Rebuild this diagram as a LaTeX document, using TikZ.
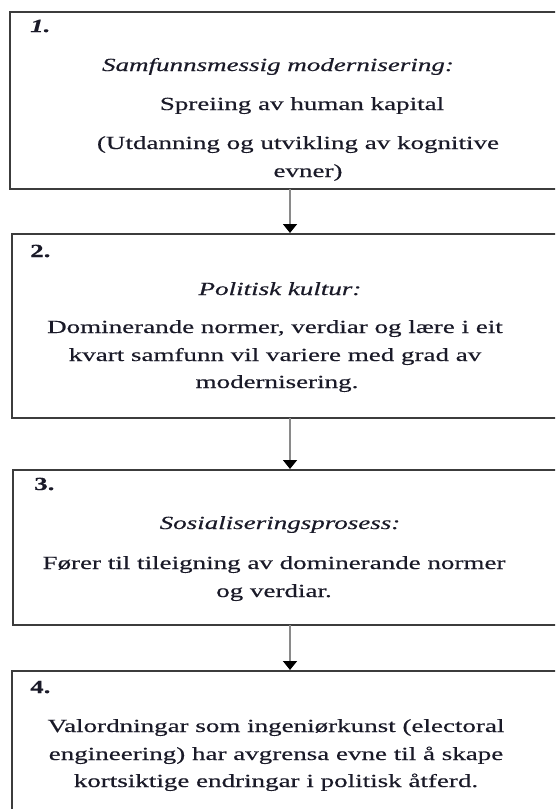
\documentclass[tikz,border=0pt]{standalone}
\usepackage{fontspec}
\setmainfont{Liberation Serif}[FakeStretch=1.46,FakeBold=0.4]
\usetikzlibrary{arrows.meta}
\definecolor{bordercol}{HTML}{3C3C3C}
\definecolor{txtcol}{HTML}{1A1A28}
\definecolor{shaftcol}{HTML}{8A8A8A}
\tikzset{
  boxst/.style={draw=bordercol, line width=2pt, inner sep=0pt, outer sep=0pt, anchor=north west},
  txt/.style={inner sep=0pt, anchor=base, text=txtcol, font=\fontsize{18.5}{27.5}\selectfont},
  numst/.style={txt, anchor=base west, font=\fontsize{18.5}{27.5}\selectfont\bfseries},
  arr/.style={draw=shaftcol, line width=1.6pt, -{Triangle[width=14pt,length=9pt,fill=black,color=black]}, shorten >=1pt}
}
\begin{document}
\begin{tikzpicture}[x=1pt,y=-1pt]
\useasboundingbox (0,0) rectangle (555,809);
\clip (0,0) rectangle (555,809);
\fill[white] (0,0) rectangle (555,809);
% boxes
\node[boxst, minimum width=570pt, minimum height=177pt] (b1) at (10,12) {};
\node[boxst, minimum width=570pt, minimum height=184pt] (b2) at (12,234) {};
\node[boxst, minimum width=570pt, minimum height=155pt] (b3) at (13,470) {};
\node[boxst, minimum width=570pt, minimum height=160pt] (b4) at (12,671) {};
% arrow x
\coordinate (ax) at (290,0);
\draw[arr] (b1.south -| ax) -- (b2.north -| ax);
\draw[arr] (b2.south -| ax) -- (b3.north -| ax);
\draw[arr] (b3.south -| ax) -- (b4.north -| ax);
% box 1
\node[numst] (n1) at (30,32) {\itshape 1.};
\node[txt] (t1a) at (278,71) {\itshape Samfunnsmessig modernisering:};
\node[txt] (t1b) at (302,110) {Spreiing av human kapital};
\node[txt] (t1c) at (298,149) {(Utdanning og utvikling av kognitive};
\node[txt] (t1d) at (308,177) {evner)};
% box 2
\node[numst] (n2) at (30,257) {2.};
\node[txt] (t2a) at (280,295) {\itshape Politisk kultur:};
\node[txt] (t2b) at (275,333) {Dominerande normer, verdiar og lære i eit};
\node[txt] (t2c) at (275,361) {kvart samfunn vil variere med grad av};
\node[txt] (t2d) at (277,388) {modernisering.};
% box 3
\node[numst] (n3) at (34,490) {3.};
\node[txt] (t3a) at (280,529) {\itshape Sosialiseringsprosess:};
\node[txt] (t3b) at (274,569) {Fører til tileigning av dominerande normer};
\node[txt] (t3c) at (274,597) {og verdiar.};
% box 4
\node[numst] (n4) at (30,693) {4.};
\node[txt] (t4a) at (276,732) {Valordningar som ingeniørkunst (electoral};
\node[txt] (t4b) at (276,760) {engineering) har avgrensa evne til å skape};
\node[txt] (t4c) at (276,787) {kortsiktige endringar i politisk åtferd.};
\end{tikzpicture}
\end{document}
